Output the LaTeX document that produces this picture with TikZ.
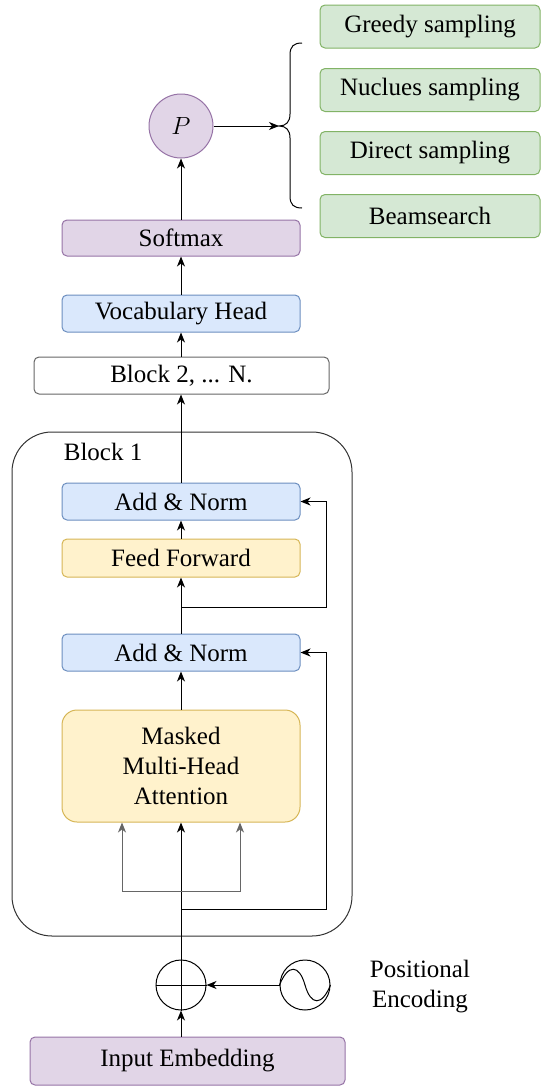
\documentclass[tikz,border=0pt]{standalone}
\usepackage{fontspec}
\setmainfont{Liberation Serif}
\usetikzlibrary{arrows.meta}
\definecolor{greenfill}{HTML}{D5E8D4}
\definecolor{greenline}{HTML}{82B366}
\definecolor{purplefill}{HTML}{E1D5E7}
\definecolor{purpleline}{HTML}{9673A6}
\definecolor{bluefill}{HTML}{DAE8FC}
\definecolor{blueline}{HTML}{6C8EBF}
\definecolor{yellowfill}{HTML}{FFF2CC}
\definecolor{yellowline}{HTML}{D6B656}
\newcommand{\dfont}{\fontsize{25}{30}\selectfont}

\begin{document}
\begin{tikzpicture}[x=1pt,y=-1pt,line width=1pt,
	every node/.style={font=\dfont},
	box/.style={draw,rounded corners=5pt,minimum width=238pt,minimum height=37pt,inner sep=0pt},
	bluebox/.style={box,fill=bluefill,draw=blueline},
	purplebox/.style={box,fill=purplefill,draw=purpleline},
	yellowbox/.style={box,fill=yellowfill,draw=yellowline},
	samplebox/.style={box,fill=greenfill,draw=greenline,minimum width=220pt,minimum height=43pt},
	arr/.style={-{Stealth[length=10pt,width=8pt,inset=3pt]}}]
\useasboundingbox (0,0) rectangle (542,1087);

% sampling methods
\foreach \y/\name/\txt in {26.5/greedy/Greedy sampling, 90/nucleus/Nuclues sampling, 153/direct/Direct sampling, 216/beam/Beamsearch}
	\node[samplebox] (\name) at (430,\y) {\txt};
\draw (302,43) .. controls (294,43) and (290,46) .. (290,55) -- (290,114)
	.. controls (290,122) and (286,126) .. (279,126)
	.. controls (286,126) and (290,130) .. (290,138) -- (290,196)
	.. controls (290,205) and (294,208) .. (302,208);
\coordinate (bracetip) at (279,126);

% output side
\node[circle,draw=purpleline,fill=purplefill,minimum size=64pt,inner sep=0pt,font=\fontsize{28}{30}\selectfont] (prob) at (181,126) {$P$};
\node[purplebox,minimum height=36pt] (softmax) at (181,238) {Softmax};
\node[bluebox] (vocab) at (181,313.5) {Vocabulary Head};
\node[box,draw=black!60,minimum width=295pt] (block2) at (181.5,375.5) {Block 2, ... N.};

% block 1
\node[draw=black!80,rounded corners=40pt,minimum width=340pt,minimum height=504pt] (block1) at (182,684) {};
\node[anchor=west] (b1label) at (60,452) {Block 1};
\node[bluebox] (an1) at (181,501.5) {Add \& Norm};
\node[yellowbox,minimum height=38pt] (ff) at (181,558) {Feed Forward};
\node[bluebox] (an2) at (181,652.5) {Add \& Norm};
\node[yellowbox,rounded corners=15pt,minimum height=112pt,align=center] (mha) at (181,766) {Masked\\Multi-Head\\Attention};

% input side
\node[circle,draw,minimum size=50pt,inner sep=0pt] (plus) at (181,985) {};
\draw (plus.north) -- (plus.south) (plus.west) -- (plus.east);
\node[circle,draw,minimum size=50pt,inner sep=0pt] (sine) at (305,985) {};
\draw (sine.west) .. controls (288,964) and (299,964) .. (sine.center)
	.. controls (311,1006) and (322,1006) .. (sine.east);
\node[align=center] (poslabel) at (420,987) {Positional\\Encoding};
\node[purplebox,minimum width=315pt,minimum height=48pt] (input) at (187.5,1061) {Input Embedding};

% connectors
\coordinate (split) at (181,891);
\coordinate (res1) at (181,909);
\coordinate (res2) at (181,607);
\draw[arr] (plus |- input.north) -- (plus.south);
\draw[arr] (sine.west) -- (plus.east);
\draw[arr] (plus.north) -- (mha.south);
\draw[arr,black!60] (split) -| ([xshift=-59pt]mha.south);
\draw[arr,black!60] (split) -| ([xshift=59pt]mha.south);
\draw[arr] (res1) -- ++(145,0) |- (an2.east);
\draw[arr] (mha.north) -- (an2.south);
\draw[arr] (an2.north) -- (ff.south);
\draw[arr] (res2) -- ++(145,0) |- (an1.east);
\draw[arr] (ff.north) -- (an1.south);
\draw[arr] (an1.north) -- (block2.south -| an1.north);
\draw[arr] (block2.north -| vocab.south) -- (vocab.south);
\draw[arr] (vocab.north) -- (softmax.south);
\draw[arr] (softmax.north) -- (prob.south);
\draw[arr] (prob.east) -- (bracetip);
\end{tikzpicture}
\end{document}
